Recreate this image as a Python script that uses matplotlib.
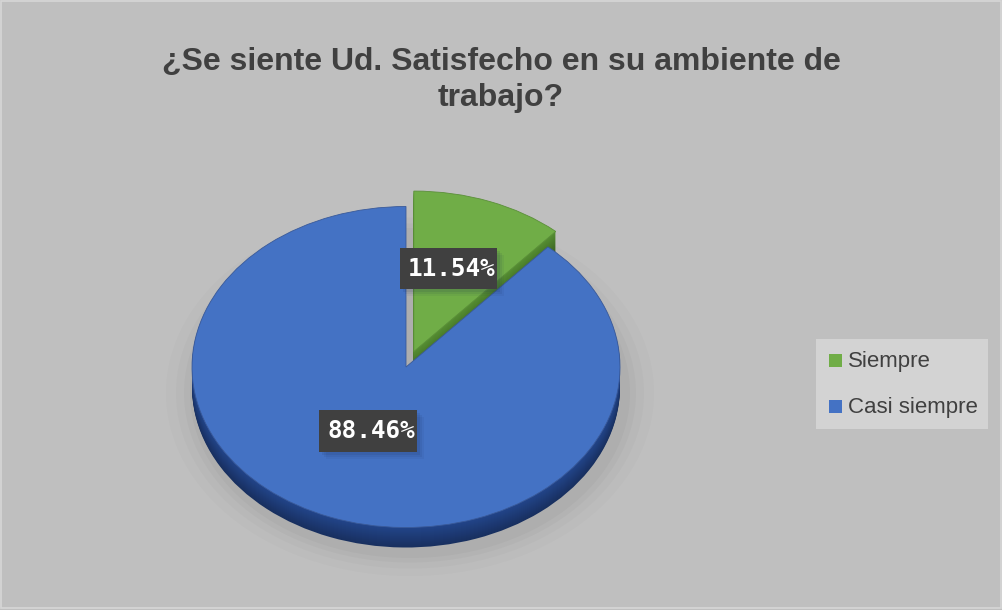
import numpy as np
import matplotlib
matplotlib.use("Agg")
import matplotlib.pyplot as plt
from matplotlib.patches import Rectangle, Ellipse
from matplotlib.colors import to_rgb

# Data
categories = ["Siempre", "Casi siempre"]
values = [11.54, 88.46]
face_colors = ["#70AD47", "#4472C4"]
side_colors = ["#4b7d2c", "#1e3c78"]
title = "¿Se siente Ud. Satisfecho en su ambiente de\ntrabajo?"

W, H = 1003, 610
BG = "#bfbfbf"
TEXT = "#404040"

fig = plt.figure(figsize=(W / 100, H / 100), dpi=100, facecolor=BG)

# Pie axes: x in pixels, y stretched so that circles appear tilted
tilt = 0.75
cx, cy_img = 406, 367
radius = 214
depth = 20
explode_dist = 22

ax = fig.add_axes([0, 0, 1, 1])
ax.set_facecolor(BG)

cy = (H - cy_img) / tilt

# soft shadow under the pie
for grow, a in [(30, 0.03), (20, 0.04), (12, 0.05), (6, 0.06)]:
    ax.add_patch(Ellipse((cx + 4, cy - (depth + 6) / tilt), 2 * (radius + grow),
                         2 * (radius + grow), facecolor="#606060", alpha=a,
                         edgecolor="none", zorder=1))

explode = [explode_dist, 0]

# side walls: stacked layers, darker toward the bottom
for i in range(depth, 0, -1):
    t = i / depth
    cols = [tuple(np.clip(np.array(to_rgb(sc)) * (1.15 - 0.35 * t), 0, 1))
            for sc in side_colors]
    ax.pie(values, colors=cols, startangle=90, counterclock=False,
           explode=explode, radius=radius, center=(cx, cy - i / tilt),
           wedgeprops=dict(edgecolor="none", linewidth=0), frame=True)

# top faces
wedges, _ = ax.pie(values, colors=face_colors, startangle=90, counterclock=False,
                   explode=explode, radius=radius, center=(cx, cy),
                   wedgeprops=dict(edgecolor="#3a5a99", linewidth=0.6), frame=True)
wedges[0].set_edgecolor("#5b8f3a")

ax.set_aspect("auto")
ax.set_xlim(0, W)
ax.set_ylim(0, H / tilt)
ax.set_xticks([]); ax.set_yticks([])
for s in ax.spines.values():
    s.set_visible(False)

# Overlay axes in pixel coordinates for text
ov = fig.add_axes([0, 0, 1, 1], facecolor="none")
ov.set_xlim(0, W)
ov.set_ylim(H, 0)
ov.axis("off")

# thin chart-area border
ov.add_patch(Rectangle((1, 1), W - 3, H - 3, fill=False, edgecolor="#d6d6d6", lw=1.2))

ov.text(501, 80, title, ha="center", va="center", fontsize=23, fontweight="bold",
        color=TEXT, family="Liberation Sans", linespacing=1.3)

# data labels: (box left, box top, box width, box height)
label_boxes = [(400, 248, 97, 41), (319, 410, 98, 42)]
for (bx, by, bw, bh), v in zip(label_boxes, values):
    s = f"{v:.2f}%"
    for k, a in [(7, 0.06), (5, 0.08), (3, 0.1)]:
        ov.add_patch(Rectangle((bx + k, by + k), bw, bh, facecolor="#1a2a50",
                               alpha=a, edgecolor="none"))
    ov.add_patch(Rectangle((bx, by), bw, bh, facecolor="#404040", edgecolor="none"))
    ov.text(bx + bw / 2 + 3, by + bh / 2, s, ha="center", va="center", fontsize=17.5,
            fontweight="bold", family="DejaVu Sans Mono", color="white")

# legend
ov.add_patch(Rectangle((816, 339), 172, 90, facecolor="#d3d3d3", edgecolor="none"))
leg_rows = [361, 407]
for y, c, name in zip(leg_rows, face_colors, categories):
    ov.add_patch(Rectangle((829, y - 7), 13, 13, facecolor=c, edgecolor="none"))
    ov.text(848, y, name, ha="left", va="center", fontsize=16, color=TEXT,
            family="Liberation Sans")

fig.savefig("out.png", dpi=100, facecolor=BG)
